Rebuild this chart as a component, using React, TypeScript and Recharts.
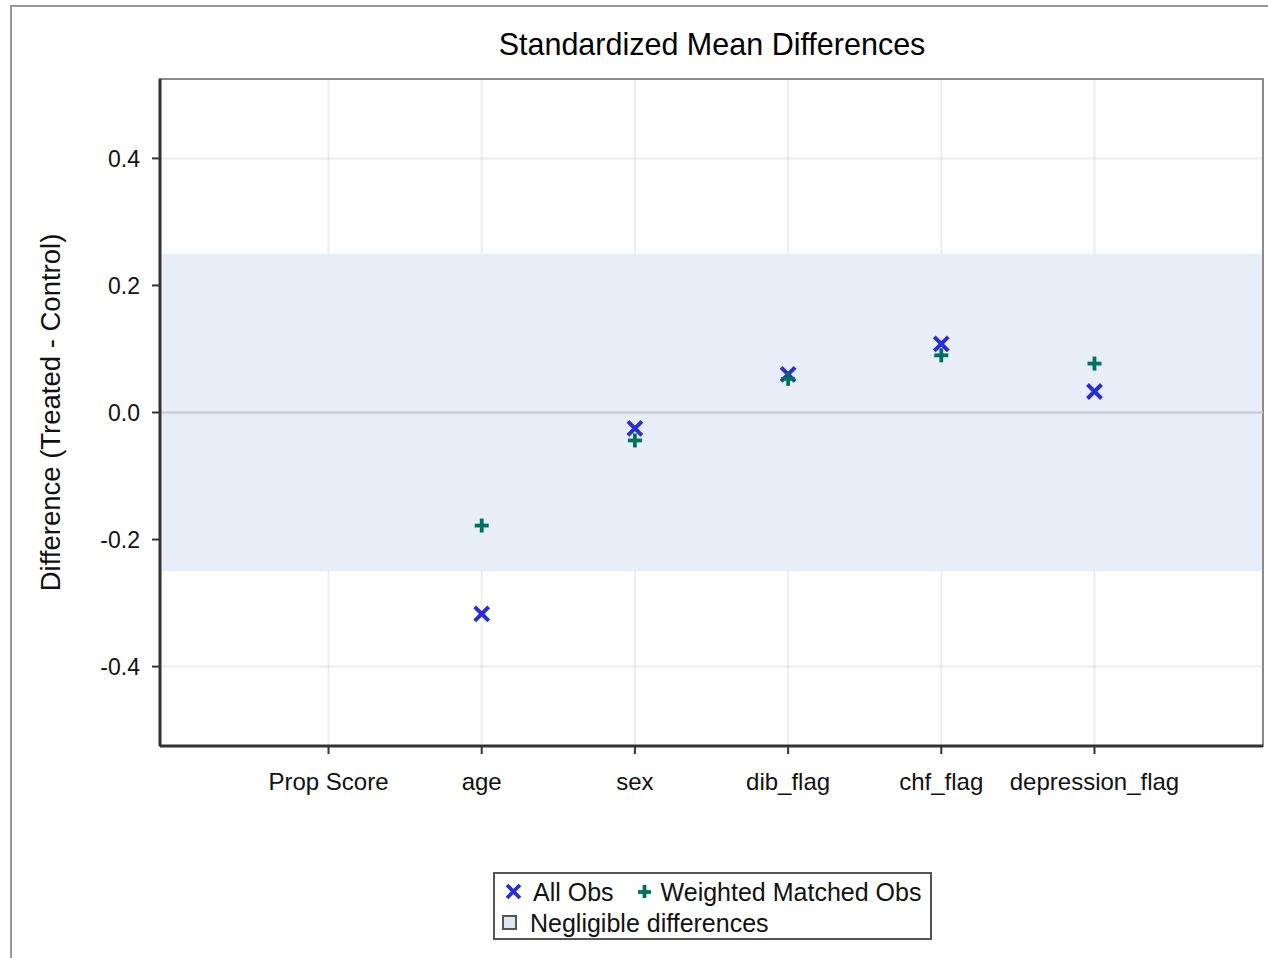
import React from 'react';
import {
  ScatterChart, Scatter, XAxis, YAxis, CartesianGrid, ReferenceArea, ReferenceLine,
} from 'recharts';

const CATEGORIES = ['Prop Score', 'age', 'sex', 'dib_flag', 'chf_flag', 'depression_flag'];
const ALL_OBS = [null, -0.317, -0.025, 0.06, 0.108, 0.033];
const WEIGHTED_OBS = [null, -0.178, -0.044, 0.053, 0.09, 0.077];
const Y_TICKS = [-0.4, -0.2, 0, 0.2, 0.4];
const NEGLIGIBLE = [-0.25, 0.25];

const FONT = '"Liberation Sans", Arial, sans-serif';
const BLUE = '#2b2bd8';
const TEAL = '#00705e';
const BAND = '#e8eef7';

const toPoints = (vals: (number | null)[]) =>
  vals.map((v, i) => ({ x: i, y: v })).filter((p) => p.y !== null);

const XMark = (props: any) => {
  const { cx, cy } = props;
  const s = 7;
  return (
    <g stroke={BLUE} strokeWidth={4}>
      <line x1={cx - s} y1={cy - s} x2={cx + s} y2={cy + s} />
      <line x1={cx - s} y1={cy + s} x2={cx + s} y2={cy - s} />
    </g>
  );
};

const PlusMark = (props: any) => {
  const { cx, cy } = props;
  const s = 7;
  return (
    <g stroke={TEAL} strokeWidth={3.8}>
      <line x1={cx - s} y1={cy} x2={cx + s} y2={cy} />
      <line x1={cx} y1={cy - s} x2={cx} y2={cy + s} />
    </g>
  );
};

const YLabel = (props: any) => {
  const { viewBox } = props;
  const cx = viewBox.x + 50;
  const cy = viewBox.y + viewBox.height / 2;
  return (
    <text
      x={cx}
      y={cy}
      transform={`rotate(-90, ${cx}, ${cy})`}
      textAnchor="middle"
      dominantBaseline="central"
      fontFamily={FONT}
      fontSize={27.5}
      fill="#111"
    >
      Difference (Treated - Control)
    </text>
  );
};

export default function App() {
  return (
    <div style={{ position: 'absolute', left: 0, top: 0, width: 1268, height: 958, background: '#fff', overflow: 'hidden', fontFamily: FONT }}>
      {/* outer frame */}
      <div style={{ position: 'absolute', left: 10, top: 5, width: 1300, height: 1000, border: '2px solid #9a9a9a' }} />

      <div style={{ position: 'absolute', left: 0, top: 26, width: 1268, paddingLeft: 156, boxSizing: 'border-box', textAlign: 'center', fontSize: 30.5, lineHeight: '36px', color: '#000' }}>
        Standardized Mean Differences
      </div>

      <div style={{ position: 'absolute', left: 0, top: 0 }}>
        <ScatterChart width={1268} height={958} margin={{ top: 79, right: 5, bottom: 152, left: 0 }}>
          <ReferenceArea y1={NEGLIGIBLE[0]} y2={NEGLIGIBLE[1]} fill={BAND} fillOpacity={1} stroke="none" />
          <CartesianGrid stroke="#000" strokeOpacity={0.07} strokeWidth={2} />
          <ReferenceLine y={0} stroke="#c6cad2" strokeWidth={2} />
          <ReferenceArea x1={-1.1} x2={6.1} y1={-0.525} y2={0.525} fill="none" stroke="#8a8a8a" strokeWidth={2} />
          <XAxis
            type="number"
            dataKey="x"
            domain={[-1.1, 6.1]}
            ticks={[0, 1, 2, 3, 4, 5]}
            tickFormatter={(i: number) => CATEGORIES[i]}
            allowDataOverflow
            height={60}
            axisLine={{ stroke: '#333', strokeWidth: 3 }}
            tickLine={{ stroke: '#333', strokeWidth: 2 }}
            tickSize={8}
            tickMargin={19}
            tick={{ fontSize: 24, fill: '#111', fontFamily: FONT }}
            interval={0}
          />
          <YAxis
            type="number"
            dataKey="y"
            domain={[-0.525, 0.525]}
            ticks={Y_TICKS}
            tickFormatter={(v: number) => v.toFixed(1)}
            allowDataOverflow
            width={160}
            axisLine={{ stroke: '#333', strokeWidth: 3 }}
            tickLine={{ stroke: '#333', strokeWidth: 2 }}
            tickSize={8}
            tickMargin={12}
            tick={{ fontSize: 23, fill: '#111', fontFamily: FONT }}
            label={<YLabel />}
          />
          <Scatter name="All Obs" data={toPoints(ALL_OBS)} shape={<XMark />} isAnimationActive={false} />
          <Scatter name="Weighted Matched Obs" data={toPoints(WEIGHTED_OBS)} shape={<PlusMark />} isAnimationActive={false} />
        </ScatterChart>
      </div>

      {/* legend */}
      <div style={{ position: 'absolute', left: 493, top: 872, width: 439, height: 68, boxSizing: 'border-box', border: '2px solid #555', fontSize: 25, color: '#111' }}>
        <div style={{ position: 'absolute', left: 8, top: 2, display: 'flex', alignItems: 'center', height: 32, whiteSpace: 'nowrap' }}>
          <svg width={22} height={22}><g stroke={BLUE} strokeWidth={3.8}><line x1={4} y1={4} x2={17} y2={17} /><line x1={4} y1={17} x2={17} y2={4} /></g></svg>
          <span style={{ marginLeft: 8 }}>All Obs</span>
          <svg width={22} height={22} style={{ marginLeft: 20 }}><g stroke={TEAL} strokeWidth={3.8}><line x1={4} y1={11} x2={17} y2={11} /><line x1={10.5} y1={4} x2={10.5} y2={17} /></g></svg>
          <span style={{ marginLeft: 5 }}>Weighted Matched Obs</span>
        </div>
        <div style={{ position: 'absolute', left: 6, top: 33, display: 'flex', alignItems: 'center', height: 32, whiteSpace: 'nowrap' }}>
          <svg width={18} height={18}><rect x={2} y={2} width={13} height={13} fill="#dfe6ef" stroke="#555" strokeWidth={2} /></svg>
          <span style={{ marginLeft: 11 }}>Negligible differences</span>
        </div>
      </div>
    </div>
  );
}
